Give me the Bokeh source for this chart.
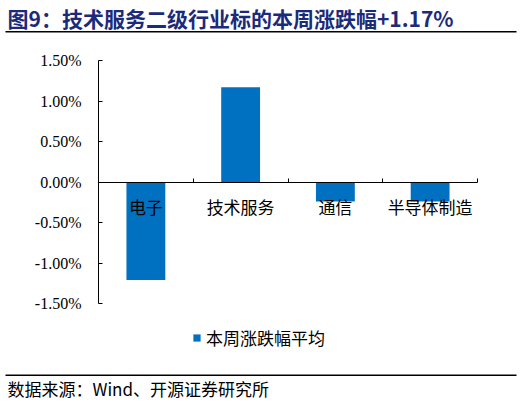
from bokeh.plotting import figure, ColumnDataSource
from bokeh.models import (LinearAxis, FixedTicker, PrintfTickFormatter, Range1d,
                          Label, BoxAnnotation, Legend, LegendItem)
from bokeh.embed import file_html
from bokeh.resources import INLINE

# data (% change this week)
categories = ["电子", "技术服务", "通信", "半导体制造"]
values = [-1.21, 1.17, -0.24, -0.24]
y_ticks = [-1.5, -1.0, -0.5, 0.0, 0.5, 1.0, 1.5]
series_name = "本周涨跌幅平均"

title_text = "图9：技术服务二级行业标的本周涨跌幅+1.17%"
source_text = "数据来源：Wind、开源证券研究所"

CJK = "Noto Sans CJK SC"
SERIF = "Liberation Serif"
BLUE = "#0070C0"

# page layout (pixels): the plotting area of the chart inside the canvas
W, H = 522, 405
AX_L, AX_R, AX_T, AX_B = 98, 477, 60, 303

xs = list(range(1, len(categories) + 1))
x_lo, x_hi = 0.5, len(categories) + 0.5
y_lo, y_hi = y_ticks[0], y_ticks[-1]

# the frame covers the whole canvas so that title / footer can be drawn in it
xpp = (x_hi - x_lo) / (AX_R - AX_L)
ypp = (y_hi - y_lo) / (AX_B - AX_T)
x_range = Range1d(x_lo - AX_L * xpp, x_hi + (W - AX_R) * xpp)
y_range = Range1d(y_lo - (H - AX_B) * ypp, y_hi + AX_T * ypp)

source = ColumnDataSource(dict(x=xs, value=values, name=categories))

p = figure(width=W, height=H, x_range=x_range, y_range=y_range,
           x_axis_location=None, y_axis_location=None,
           min_border=0,
           output_backend="svg", toolbar_location=None,
           background_fill_color="white", border_fill_color="white")
p.outline_line_color = None
p.xgrid.visible = False
p.ygrid.visible = False

bars = p.vbar(x="x", top="value", bottom=0, width=0.41, source=source,
              fill_color=BLUE, line_color=None)

# y axis
yaxis = LinearAxis(ticker=FixedTicker(ticks=y_ticks),
                   formatter=PrintfTickFormatter(format="%.2f%%"),
                   fixed_location=x_lo, bounds=(y_lo, y_hi))
yaxis.major_tick_in = 4
yaxis.major_tick_out = 0
yaxis.minor_tick_line_color = None
yaxis.axis_line_color = "black"
yaxis.major_tick_line_color = "black"
yaxis.major_label_text_font = SERIF
yaxis.major_label_text_font_size = "16px"
yaxis.major_label_text_color = "black"
yaxis.major_label_standoff = 17
p.add_layout(yaxis, "left")

# x axis line at zero with ticks between categories
xaxis_ticks = LinearAxis(ticker=FixedTicker(ticks=[x + 0.5 for x in xs]),
                         fixed_location=0, bounds=(x_lo, x_hi))
xaxis_ticks.major_tick_in = 4
xaxis_ticks.major_tick_out = 0
xaxis_ticks.minor_tick_line_color = None
xaxis_ticks.axis_line_color = "black"
xaxis_ticks.major_label_text_color = None
p.add_layout(xaxis_ticks, "below")

# category labels
xaxis_labels = LinearAxis(ticker=FixedTicker(ticks=xs), fixed_location=0,
                          major_label_overrides={x: c for x, c in zip(xs, categories)})
xaxis_labels.axis_line_color = None
xaxis_labels.major_tick_line_color = None
xaxis_labels.minor_tick_line_color = None
xaxis_labels.major_label_text_font = CJK
xaxis_labels.major_label_text_font_size = "17px"
xaxis_labels.major_label_text_color = "black"
xaxis_labels.major_label_standoff = 6
p.add_layout(xaxis_labels, "below")

legend = Legend(items=[LegendItem(label=series_name, renderers=[bars])],
                location=(192, 55), orientation="horizontal",
                glyph_width=9, glyph_height=9, label_standoff=5,
                padding=0, margin=0, border_line_color=None,
                background_fill_alpha=0,
                label_text_font=CJK, label_text_font_size="17px",
                label_text_color="black")
p.add_layout(legend, "center")

# title, footer and rules
p.add_layout(Label(x=7, y=17, x_units="canvas", y_units="canvas",
                   text=title_text, text_font=CJK, text_font_size="21px",
                   text_font_style="bold", text_color="#1B2A7A",
                   text_baseline="middle"))
p.add_layout(BoxAnnotation(left=5, right=516, top=30.5, bottom=32,
                           left_units="canvas", right_units="canvas",
                           top_units="canvas", bottom_units="canvas",
                           fill_color="black", fill_alpha=1, line_color=None))
p.add_layout(BoxAnnotation(left=5, right=516, top=374, bottom=375.5,
                           left_units="canvas", right_units="canvas",
                           top_units="canvas", bottom_units="canvas",
                           fill_color="black", fill_alpha=1, line_color=None))
p.add_layout(Label(x=7, y=388, x_units="canvas", y_units="canvas",
                   text=source_text, text_font=CJK, text_font_size="17px",
                   text_color="black", text_baseline="middle"))

open("out.html", "w").write(file_html(p, INLINE))
